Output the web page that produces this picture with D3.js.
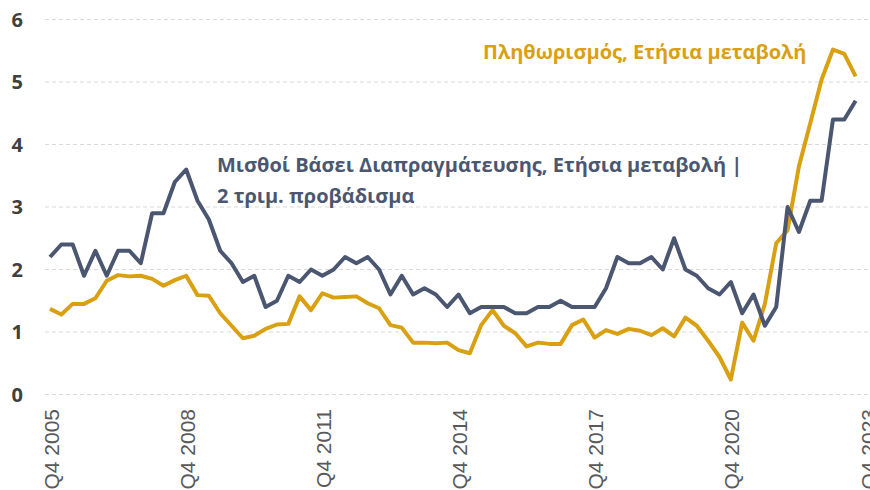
<!DOCTYPE html>
<html>
<head>
<meta charset="utf-8">
<script src="https://cdn.jsdelivr.net/npm/d3@7"></script>
<style>
  body { margin: 0; background: #fff; }
  svg { display: block; }
  .ylab { font-family: "Open Sans", sans-serif; font-weight: bold; font-size: 20px; fill: #404040; }
  .xlab { font-family: "Liberation Sans", Arial, sans-serif; font-size: 21px; fill: #595959; }
  .note { font-family: "Open Sans", sans-serif; font-weight: bold; font-size: 20px; }
</style>
</head>
<body>
<svg id="svg" width="870" height="490"></svg>
<script>
// quarterly, Q4 2005 .. Q3 2023 (axis runs to Q4 2023)
var startYear = 2005;
var nQuarters = 73;

var wages = [2.2, 2.4, 2.4, 1.9, 2.3, 1.9, 2.3, 2.3, 2.1, 2.9, 2.9, 3.4, 3.6, 3.1, 2.8, 2.3,
  2.1, 1.8, 1.9, 1.4, 1.5, 1.9, 1.8, 2.0, 1.9, 2.0, 2.2, 2.1, 2.2, 2.0, 1.6, 1.9,
  1.6, 1.7, 1.6, 1.4, 1.6, 1.3, 1.4, 1.4, 1.4, 1.3, 1.3, 1.4, 1.4, 1.5, 1.4, 1.4,
  1.4, 1.7, 2.2, 2.1, 2.1, 2.2, 2.0, 2.5, 2.0, 1.9, 1.7, 1.6, 1.8, 1.3, 1.6, 1.1,
  1.4, 3.0, 2.6, 3.1, 3.1, 4.4, 4.4, 4.7];

var inflation = [1.37, 1.28, 1.45, 1.45, 1.54, 1.82, 1.91, 1.89, 1.90, 1.85, 1.74, 1.83, 1.90, 1.59, 1.58, 1.30,
  1.10, 0.90, 0.94, 1.05, 1.12, 1.13, 1.57, 1.35, 1.62, 1.55, 1.56, 1.57, 1.46, 1.38, 1.11, 1.07,
  0.83, 0.83, 0.82, 0.83, 0.71, 0.66, 1.11, 1.35, 1.10, 0.98, 0.77, 0.83, 0.81, 0.81, 1.11, 1.20,
  0.91, 1.03, 0.97, 1.05, 1.02, 0.95, 1.06, 0.93, 1.23, 1.10, 0.86, 0.60, 0.24, 1.15, 0.86, 1.45,
  2.42, 2.63, 3.65, 4.34, 5.04, 5.52, 5.45, 5.09];

var yTicks = [0, 1, 2, 3, 4, 5, 6];
var xTickLabels = ["Q4 2005", "Q4 2008", "Q4 2011", "Q4 2014", "Q4 2017", "Q4 2020", "Q4 2023"];

var wagesLabel = ["Μισθοί Βάσει Διαπραγμάτευσης, Ετήσια μεταβολή |", "2 τριμ. προβάδισμα"];
var inflationLabel = "Πληθωρισμός, Ετήσια μεταβολή";

var quarters = [];
for (var i = 0; i < nQuarters; i++) {
    var q = (3 + i) % 4 + 1;
    var y = startYear + Math.floor((3 + i) / 4);
    quarters.push("Q" + q + " " + y);
}

var grey = "#4b5771";
var gold = "#d9a012";

var svg = d3.select("#svg");

var x = d3.scalePoint().domain(quarters).range([50, 867]);
var yScale = d3.scaleLinear().domain([0, 6]).range([394.5, 19.5]);

// gridlines
svg.append("g")
    .selectAll("line")
    .data(yTicks)
    .enter()
    .append("line")
    .attr("x1", 45)
    .attr("x2", 870)
    .attr("y1", function(d) { return yScale(d); })
    .attr("y2", function(d) { return yScale(d); })
    .attr("stroke", "#d9d9d9")
    .attr("stroke-width", 1)
    .attr("stroke-dasharray", "4,3");

svg.append("g")
    .selectAll("text")
    .data(yTicks)
    .enter()
    .append("text")
    .attr("class", "ylab")
    .attr("x", 23)
    .attr("y", function(d) { return yScale(d); })
    .attr("dy", "0.35em")
    .attr("text-anchor", "end")
    .text(function(d) { return d; });

// x labels, rotated (last one runs off the edge, as in the original)
svg.append("g")
    .selectAll("text")
    .data(xTickLabels)
    .enter()
    .append("text")
    .attr("class", "xlab")
    .attr("transform", function(d) {
        return "translate(" + (x(d) + 1) + ",409) rotate(-90)";
    })
    .attr("dy", "0.36em")
    .attr("text-anchor", "end")
    .text(function(d) { return d; });

var line = d3.line()
    .x(function(d, i) { return x(quarters[i]); })
    .y(function(d) { return yScale(d); });

svg.append("path")
    .datum(inflation)
    .attr("d", line)
    .attr("fill", "none")
    .attr("stroke", gold)
    .attr("stroke-width", 4)
    .attr("stroke-linejoin", "round");

svg.append("path")
    .datum(wages)
    .attr("d", line)
    .attr("fill", "none")
    .attr("stroke", grey)
    .attr("stroke-width", 4)
    .attr("stroke-linejoin", "round");

// annotations
svg.append("text")
    .attr("class", "note")
    .attr("x", 483)
    .attr("y", 59)
    .attr("fill", gold)
    .text(inflationLabel);

svg.selectAll(".wnote")
    .data(wagesLabel)
    .enter()
    .append("text")
    .attr("class", "note wnote")
    .attr("x", 217)
    .attr("y", function(d, i) { return 172 + i * 31; })
    .attr("fill", grey)
    .text(function(d) { return d; });
</script>
</body>
</html>
